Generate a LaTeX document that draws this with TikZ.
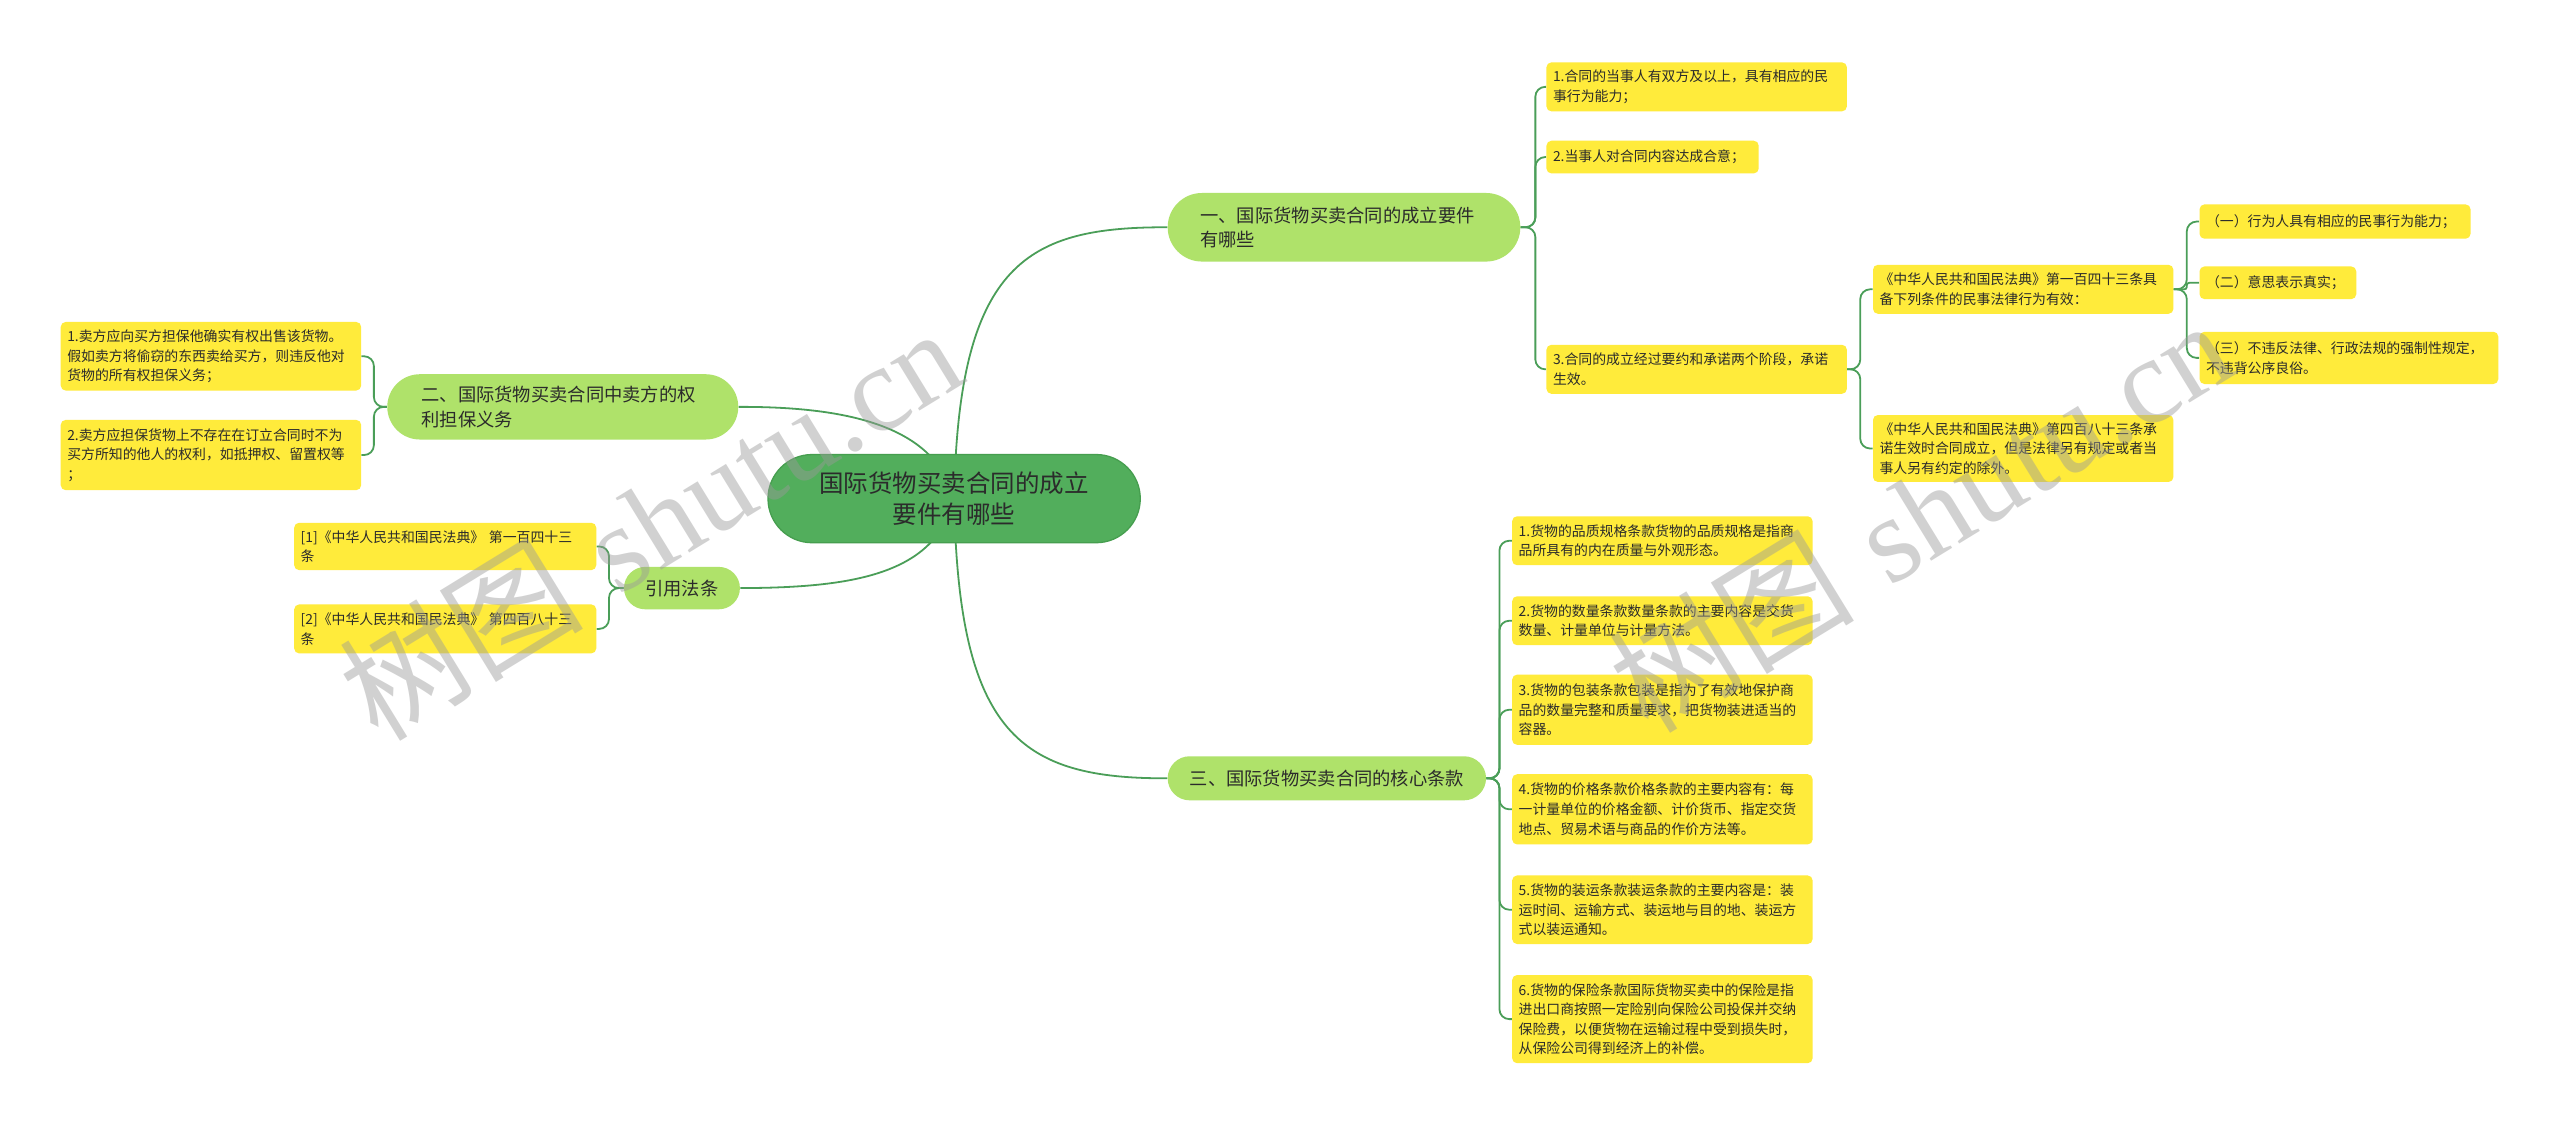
\documentclass[tikz,border=0pt]{standalone}
\usepackage{fontspec}
\newfontfamily\cjk{Noto Sans CJK SC}
\newfontfamily\wmserif{Liberation Serif}
\usetikzlibrary{backgrounds}
\definecolor{rootfill}{HTML}{52AE5C}
\definecolor{rootdraw}{HTML}{469E4F}
\definecolor{brfill}{HTML}{AFE26A}
\definecolor{yel}{HTML}{FFEB3B}
\definecolor{lnk}{HTML}{4A9E58}
\definecolor{txt}{HTML}{2B2B2B}
\definecolor{wmc}{HTML}{9A9A9A}
\begin{document}
\begin{tikzpicture}[x=1pt,y=-1pt,
  ybox/.style={fill=yel, rounded corners=3pt, anchor=north west, inner xsep=4pt, inner ysep=0pt,
    font=\cjk\fontsize{8.5}{12}\selectfont, text=txt, align=left},
  pill/.style={anchor=north west, inner ysep=0pt, text=txt, fill=brfill,
    font=\cjk\fontsize{11.2}{15}\selectfont},
  conn/.style={draw=lnk, line width=1.1pt},
  sub/.style={conn, rounded corners=6pt},
  wm/.style={rotate=31.5, text=wmc, opacity=0.45, inner sep=0pt, font=\fontsize{75}{75}\selectfont},
]
\useasboundingbox (0,0) rectangle (1568,689);

% root
\node[anchor=north west, fill=rootfill, draw=rootdraw, line width=0.8pt, rounded corners=27pt,
  text width=188pt, inner xsep=20pt, inner ysep=0pt, minimum height=54pt, align=center, text=txt,
  font=\cjk\fontsize{15}{19}\selectfont] (root) at (470,278) {国际货物买卖合同的成立\\要件有哪些};

% branches
\node[pill, rounded corners=21pt, text width=176pt, inner xsep=20pt, minimum height=42pt, align=left]
  (B1) at (715,118) {一、国际货物买卖合同的成立要件\\有哪些};
\node[pill, rounded corners=20pt, text width=173pt, inner xsep=21pt, minimum height=40pt, align=left]
  (B2) at (237,229) {二、国际货物买卖合同中卖方的权\\利担保义务};
\node[pill, rounded corners=13.5pt, text width=179pt, inner xsep=8pt, minimum height=27pt, align=center]
  (B3) at (715,463) {三、国际货物买卖合同的核心条款};
\node[pill, rounded corners=13pt, text width=55pt, inner xsep=8pt, minimum height=26pt, align=center]
  (R) at (382,347) {引用法条};

% branch 1 children
\node[ybox, text width=176pt, minimum height=30pt] (b1c1) at (947,38) {1.合同的当事人有双方及以上，具有相应的民\\事行为能力；};
\node[ybox, text width=122pt, minimum height=20pt] (b1c2) at (947,86) {2.当事人对合同内容达成合意；};
\node[ybox, text width=176pt, minimum height=30pt] (b1c3) at (947,211) {3.合同的成立经过要约和承诺两个阶段，承诺\\生效。};
\node[ybox, text width=176pt, minimum height=30pt] (b1c3a) at (1147,162) {《中华人民共和国民法典》第一百四十三条具\\备下列条件的民事法律行为有效：};
\node[ybox, text width=176pt, minimum height=41pt] (b1c3b) at (1147,254) {《中华人民共和国民法典》第四百八十三条承\\诺生效时合同成立，但是法律另有规定或者当\\事人另有约定的除外。};
\node[ybox, text width=158pt, minimum height=21pt] (t1) at (1347,125) {（一）行为人具有相应的民事行为能力；};
\node[ybox, text width=88pt, minimum height=20pt] (t2) at (1347,163) {（二）意思表示真实；};
\node[ybox, text width=175pt, minimum height=32pt] (t3) at (1347,203) {（三）不违反法律、行政法规的强制性规定，\\不违背公序良俗。};

% branch 2 children
\node[ybox, text width=176pt, minimum height=42pt] (b2c1) at (37,197) {1.卖方应向买方担保他确实有权出售该货物。\\假如卖方将偷窃的东西卖给买方，则违反他对\\货物的所有权担保义务；};
\node[ybox, text width=176pt, minimum height=43pt] (b2c2) at (37,257) {2.卖方应担保货物上不存在在订立合同时不为\\买方所知的他人的权利，如抵押权、留置权等\\；};

% references
\node[ybox, text width=177pt, minimum height=29pt] (r1) at (180,320) {[1]《中华人民共和国民法典》 第一百四十三\\条};
\node[ybox, text width=177pt, minimum height=30pt] (r2) at (180,370) {[2]《中华人民共和国民法典》 第四百八十三\\条};

% branch 3 children
\node[ybox, text width=176pt, minimum height=30pt] (c1) at (926,316) {1.货物的品质规格条款货物的品质规格是指商\\品所具有的内在质量与外观形态。};
\node[ybox, text width=176pt, minimum height=30pt] (c2) at (926,365) {2.货物的数量条款数量条款的主要内容是交货\\数量、计量单位与计量方法。};
\node[ybox, text width=176pt, minimum height=43pt] (c3) at (926,413) {3.货物的包装条款包装是指为了有效地保护商\\品的数量完整和质量要求，把货物装进适当的\\容器。};
\node[ybox, text width=176pt, minimum height=43pt] (c4) at (926,474) {4.货物的价格条款价格条款的主要内容有：每\\一计量单位的价格金额、计价货币、指定交货\\地点、贸易术语与商品的作价方法等。};
\node[ybox, text width=176pt, minimum height=42pt] (c5) at (926,536) {5.货物的装运条款装运条款的主要内容是：装\\运时间、运输方式、装运地与目的地、装运方\\式以装运通知。};
\node[ybox, text width=176pt, minimum height=54pt] (c6) at (926,597) {6.货物的保险条款国际货物买卖中的保险是指\\进出口商按照一定险别向保险公司投保并交纳\\保险费，以便货物在运输过程中受到损失时，\\从保险公司得到经济上的补偿。};

\begin{pgfonlayer}{background}
\fill[white] (0,0) rectangle (1568,689);
\draw[conn] (root.center) .. controls (587,160) and (630,139) .. (B1.west);
\draw[conn] (root.center) .. controls (587,450) and (625,477) .. (B3.west);
\draw[conn] (root.center) .. controls (573,262) and (522,249) .. (B2.east);
\draw[conn] (root.center) .. controls (573,352) and (522,360) .. (R.east);
\draw[sub] (B1.east) -- ++(9,0) |- (b1c1.west);
\draw[sub] (B1.east) -- ++(9,0) |- (b1c2.west);
\draw[sub] (B1.east) -- ++(9,0) |- (b1c3.west);
\draw[sub] (b1c3.east) -- ++(8,0) |- (b1c3a.west);
\draw[sub] (b1c3.east) -- ++(8,0) |- (b1c3b.west);
\draw[sub] (b1c3a.east) -- ++(8,0) |- (t1.west);
\draw[conn, rounded corners=1.5pt] (b1c3a.east) -- ++(8,0) |- (t2.west);
\draw[sub] (b1c3a.east) -- ++(8,0) |- (t3.west);
\draw[sub] (B2.west) -- ++(-8,0) |- (b2c1.east);
\draw[sub] (B2.west) -- ++(-8,0) |- (b2c2.east);
\draw[sub] (R.west) -- ++(-9,0) |- (r1.east);
\draw[sub] (R.west) -- ++(-9,0) |- (r2.east);
\foreach \c in {c1,c2,c3,c4,c5,c6}
  \draw[sub] (B3.east) -- ++(8,0) |- (\c.west);
\end{pgfonlayer}

% watermarks
\node[wm] (wm1) at (398,320) {{\cjk 树图}\ {\wmserif shutu.cn}};
\node[wm] (wm2) at (1176,315) {{\cjk 树图}\ {\wmserif shutu.cn}};
\end{tikzpicture}
\end{document}
